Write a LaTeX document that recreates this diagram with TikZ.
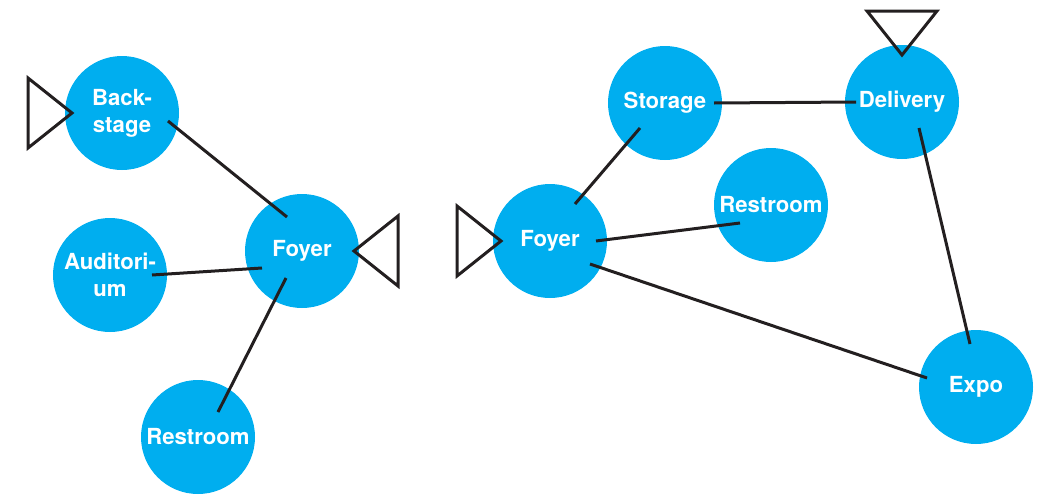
\documentclass[tikz,border=0pt]{standalone}
\usepackage{fontspec}
\setsansfont{TeX Gyre Heros}
\usetikzlibrary{calc}
\definecolor{roomblue}{RGB}{0,174,239}
\definecolor{linegray}{RGB}{35,31,32}

\begin{document}
\begin{tikzpicture} [x=0.2mm, y=0.2mm,
  room/.style={circle, fill=roomblue, minimum size=22.8mm, inner sep=0, text=white, align=center,
    font=\sffamily\bfseries\fontsize{12.6}{15.4}\selectfont},
  link/.style={linegray, line width=0.6mm},
  gate/.style={linegray, line width=0.6mm}]
\useasboundingbox (0,0) rectangle (1039,495);
% left plan
\node[room] (backstage) at (122,382) {Back-\\stage};
\node[room] (foyerL) at (302,244) {Foyer};
\node[room] (audit) at (110,220) {Auditori-\\um};
\node[room] (restL) at (198,58) {Restroom};
% right plan
\node[room] (foyerR) at (550,254) {Foyer};
\node[room] (storage) at (665,392) {Storage};
\node[room] (delivery) at (902,393) {Delivery};
\node[room] (restR) at (771,290) {Restroom};
\node[room] (expo) at (976,108) {Expo};
\foreach \a/\ax/\ay/\b/\bx/\by in {backstage/46/-8/foyerL/-15/34, audit/42/0/foyerL/-40/-17,
  foyerL/-16/-27/restL/20/25, storage/-25/-25/foyerR/25/37, storage/49/0/delivery/-46/0,
  foyerR/46/0/restR/-31/-18, foyerR/40/-23/expo/-49/9, delivery/17/-26/expo/-6/43} {
 \draw[link] ([shift={(\ax,\ay)}]\a.center) -- ([shift={(\bx,\by)}]\b.center);
}
% entrances
\foreach \n/\r/\t in {backstage/180/50, foyerL/0/52, foyerR/180/49, delivery/90/47} {
 \draw[gate, shift={(\n.center)}, rotate=\r] (\t,0) -- (\t+44,35) -- (\t+44,-35) -- cycle;
}
\end{tikzpicture}
\end{document}
